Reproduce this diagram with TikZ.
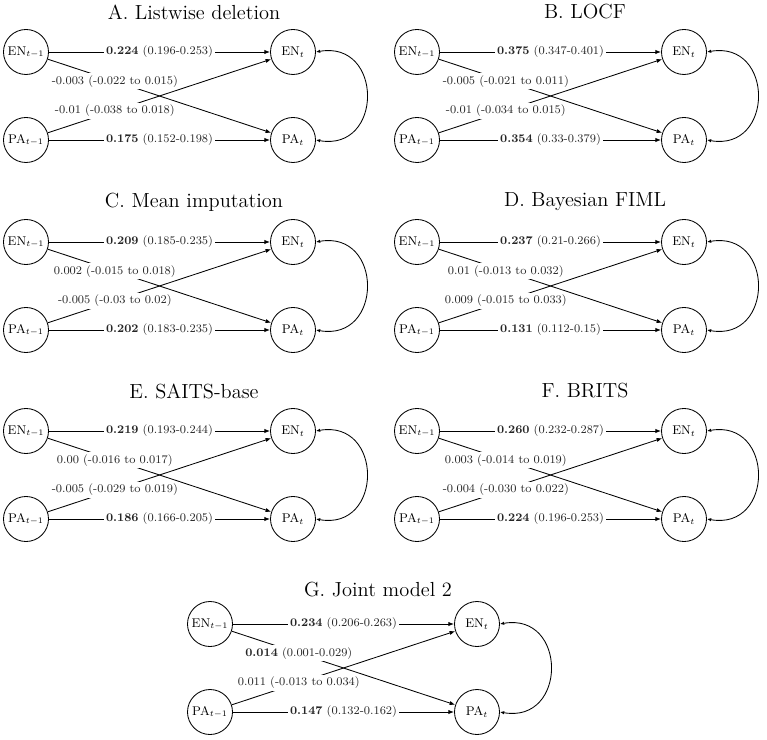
\documentclass[tikz,border=0pt]{standalone}
\usepackage{amsmath}
\usetikzlibrary{arrows.meta}
\tikzset{
  varnode/.style={circle, draw, line width=0.6pt, minimum size=1.125cm, inner sep=0pt, font=\fontsize{9}{11}\selectfont},
  patharrow/.style={-{Latex[length=4pt,width=3pt]}, line width=0.6pt},
  covarrow/.style={{Latex[length=3pt,width=2.4pt]}-{Latex[length=3pt,width=2.4pt]}, line width=0.6pt},
  estlabel/.style={fill=white, inner sep=1.5pt, text=black!85, font=\fontsize{8.3}{10}\selectfont},
  paneltitle/.style={font=\fontsize{14.5}{17}\selectfont},
}

\begin{document}
\begin{tikzpicture}[x=0.025cm,y=0.025cm]
\useasboundingbox (0,0) rectangle (767,-740);
\foreach \id/\px/\py/\ty/\ttl/\ee/\ep/\pe/\pp in {
A/0/0/12/{A. Listwise deletion}/{\textbf{0.224} (0.196-0.253)}/{-0.003 (-0.022 to 0.015)}/{-0.01 (-0.038 to 0.018)}/{\textbf{0.175} (0.152-0.198)},
B/391/0/12/{B. LOCF}/{\textbf{0.375} (0.347-0.401)}/{-0.005 (-0.021 to 0.011)}/{-0.01 (-0.034 to 0.015)}/{\textbf{0.354} (0.33-0.379)},
C/0/190/12/{C. Mean imputation}/{\textbf{0.209} (0.185-0.235)}/{0.002 (-0.015 to 0.018)}/{-0.005 (-0.03 to 0.02)}/{\textbf{0.202} (0.183-0.235)},
D/391/190/12/{D. Bayesian FIML}/{\textbf{0.237} (0.21-0.266)}/{0.01 (-0.013 to 0.032)}/{0.009 (-0.015 to 0.033)}/{\textbf{0.131} (0.112-0.15)},
E/0/379/12/{E. SAITS-base}/{\textbf{0.219} (0.193-0.244)}/{0.00 (-0.016 to 0.017)}/{-0.005 (-0.029 to 0.019)}/{\textbf{0.186} (0.166-0.205)},
F/391/379/12/{F. BRITS}/{\textbf{0.260} (0.232-0.287)}/{0.003 (-0.014 to 0.019)}/{-0.004 (-0.030 to 0.022)}/{\textbf{0.224} (0.196-0.253)},
G/184/572/18/{G. Joint model 2}/{\textbf{0.234} (0.206-0.263)}/{\textbf{0.014} (0.001-0.029)}/{0.011 (-0.013 to 0.034)}/{\textbf{0.147} (0.132-0.162)}}{
  \begin{scope}[shift={(\px,-\py)}]
    \node[paneltitle] (\id-title) at (194,-\ty) {\ttl};
    \node[varnode] (\id-en1) at (26,-52) {EN$_{t-1}$};
    \node[varnode] (\id-pa1) at (26,-140) {PA$_{t-1}$};
    \node[varnode] (\id-en2) at (293,-52) {EN$_t$};
    \node[varnode] (\id-pa2) at (293,-140) {PA$_t$};
    \draw[patharrow] (\id-en1) -- node[estlabel] (\id-l1) {\ee} (\id-en2);
    \draw[patharrow] (\id-en1) -- node[estlabel,pos=0.3] (\id-l2) {\ep} (\id-pa2);
    \draw[patharrow] (\id-pa1) -- node[estlabel,pos=0.3] (\id-l3) {\pe} (\id-en2);
    \draw[patharrow] (\id-pa1) -- node[estlabel] (\id-l4) {\pp} (\id-pa2);
    % residual covariance
    \draw[covarrow] (\id-en2.east) to[out=10,in=-10,looseness=2] (\id-pa2.east);
  \end{scope}
}
\end{tikzpicture}
\end{document}
